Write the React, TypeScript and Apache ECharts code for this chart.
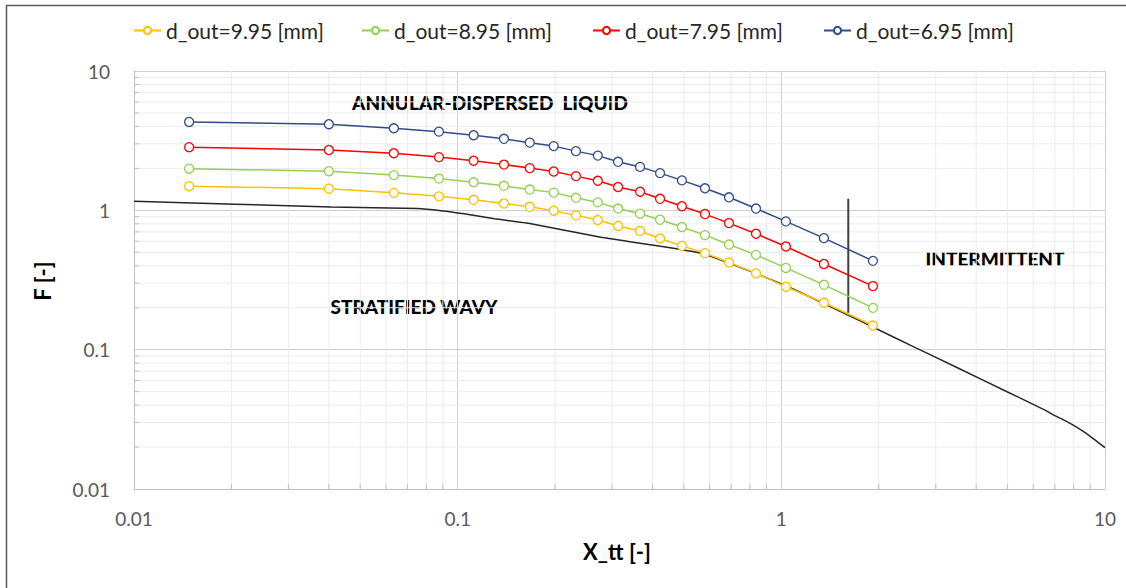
import React, { useEffect, useRef } from 'react';
import * as echarts from 'echarts';

const xtt = [0.0148, 0.040, 0.0635, 0.0875, 0.112, 0.139, 0.167, 0.198, 0.232, 0.271, 0.313, 0.366, 0.422, 0.493, 0.581, 0.689, 0.835, 1.033, 1.354, 1.919];
const f995 = [1.49, 1.43, 1.335, 1.26, 1.19, 1.12, 1.06, 0.994, 0.92, 0.852, 0.772, 0.71, 0.628, 0.556, 0.493, 0.422, 0.353, 0.283, 0.217, 0.149];
const f895 = [1.99, 1.91, 1.79, 1.69, 1.59, 1.5, 1.41, 1.34, 1.23, 1.14, 1.03, 0.946, 0.856, 0.759, 0.664, 0.568, 0.479, 0.386, 0.292, 0.1995];
const f795 = [2.84, 2.71, 2.57, 2.41, 2.27, 2.13, 2.01, 1.9, 1.76, 1.63, 1.47, 1.36, 1.21, 1.07, 0.94, 0.81, 0.679, 0.55, 0.412, 0.286];
const f695 = [4.31, 4.15, 3.88, 3.67, 3.46, 3.26, 3.06, 2.89, 2.66, 2.47, 2.23, 2.05, 1.85, 1.64, 1.44, 1.24, 1.03, 0.833, 0.632, 0.434];

const boundaryX = [0.01, 0.0406, 0.0753, 0.0888, 0.1046, 0.13, 0.1685, 0.277, 0.564, 1.02, 1.9, 2.5, 3.5, 5.0, 6.5, 7.0, 7.5, 8.0, 8.5, 9.0, 9.5, 10];
const boundaryF = [1.164, 1.057, 1.03, 0.995, 0.945, 0.87, 0.8, 0.64, 0.493, 0.291, 0.147, 0.1078, 0.0742, 0.0497, 0.037, 0.0336, 0.0311, 0.0286, 0.0262, 0.0239, 0.0217, 0.0198];

const dividerX = [1.61, 1.61];
const dividerF = [1.21, 0.184];

const seriesNames = ['d_out=9.95 [mm]', 'd_out=8.95 [mm]', 'd_out=7.95 [mm]', 'd_out=6.95 [mm]'];
const seriesValues = [f995, f895, f795, f695];
const seriesColors = ['#FFC000', '#92D050', '#FF0000', '#2F4B8A'];

const axisTickLabels = ['0.01', '0.1', '1', '10'];
const minorValues = [0.02, 0.03, 0.04, 0.05, 0.06, 0.07, 0.08, 0.09, 0.2, 0.3, 0.4, 0.5, 0.6, 0.7, 0.8, 0.9, 2, 3, 4, 5, 6, 7, 8, 9];

const FONT = 'Lato, "Open Sans", sans-serif';

export default function App() {
  const ref = useRef<HTMLDivElement>(null);
  useEffect(() => {
    const chart = echarts.init(ref.current!, null, { renderer: 'svg' });
    const fmt = (v: number) => {
      const s = axisTickLabels.find((t) => Math.abs(parseFloat(t) - v) < 1e-9 * Math.max(1, v));
      return s ?? '';
    };
    const lineSeries = seriesNames.map((name, i) => ({
      name,
      type: 'line',
      data: xtt.map((x, j) => [x, seriesValues[i][j]]),
      symbol: 'circle',
      symbolSize: 9,
      showSymbol: true,
      itemStyle: { color: '#ffffff', borderColor: seriesColors[i], borderWidth: 1.3 },
      lineStyle: { color: seriesColors[i], width: 1.5 },
      z: 3 + i,
    }));
    const option: any = {
      animation: false,
      backgroundColor: '#ffffff',
      grid: { left: 134, right: 21, top: 71, bottom: 99, containLabel: false },
      xAxis: {
        type: 'log',
        logBase: 10,
        min: 0.01,
        max: 10,
        axisLine: { show: true, lineStyle: { color: '#bfbfbf', width: 1 } },
        axisTick: { show: false },
        axisLabel: { formatter: fmt, fontSize: 19, color: '#595959', fontFamily: FONT, margin: 20 },
        splitLine: { show: true, lineStyle: { color: '#d0d0d0', width: 1 } },
      },
      yAxis: {
        type: 'log',
        logBase: 10,
        min: 0.01,
        max: 10,
        axisLine: { show: true, lineStyle: { color: '#bfbfbf', width: 1 } },
        axisTick: { show: false },
        axisLabel: { formatter: fmt, fontSize: 19, color: '#595959', fontFamily: FONT, margin: 24 },
        splitLine: { show: true, lineStyle: { color: '#d0d0d0', width: 1 } },
      },
      legend: seriesNames.map((n, i) => ({
        data: [n],
        left: [133, 361, 592, 823][i],
        top: 20,
        padding: 0,
        itemWidth: 27,
        itemHeight: 9,
        textStyle: { fontSize: 21, color: '#262626', fontFamily: FONT },
      })),
      series: [
        {
          type: 'custom',
          silent: true,
          z: 0,
          encode: { x: 0, y: 1 },
          data: minorValues.map((v) => [v, 1]),
          renderItem: (params: any, api: any) => {
            const v = api.value(0);
            const a = api.coord([v, 0.01]);
            const b = api.coord([v, 10]);
            return {
              type: 'group',
              children: [
                { type: 'line', shape: { x1: a[0], y1: a[1], x2: b[0], y2: b[1] }, style: { stroke: '#ececec', lineWidth: 1 } },
                { type: 'line', shape: { x1: a[0], y1: a[1], x2: a[0], y2: a[1] - 5 }, style: { stroke: '#bfbfbf', lineWidth: 1 } },
              ],
            };
          },
        },
        {
          type: 'custom',
          silent: true,
          z: 0,
          encode: { x: 0, y: 1 },
          data: minorValues.map((v) => [1, v]),
          renderItem: (params: any, api: any) => {
            const v = api.value(1);
            const a = api.coord([0.01, v]);
            const b = api.coord([10, v]);
            return {
              type: 'group',
              children: [
                { type: 'line', shape: { x1: a[0], y1: a[1], x2: b[0], y2: b[1] }, style: { stroke: '#ececec', lineWidth: 1 } },
                { type: 'line', shape: { x1: a[0], y1: a[1], x2: a[0] + 5, y2: a[1] }, style: { stroke: '#bfbfbf', lineWidth: 1 } },
              ],
            };
          },
        },
        {
          name: 'boundary',
          type: 'line',
          data: boundaryX.map((x, j) => [x, boundaryF[j]]),
          symbol: 'none',
          smooth: 0.15,
          lineStyle: { color: '#262626', width: 1.5 },
          z: 2,
        },
        {
          name: 'divider',
          type: 'line',
          data: dividerX.map((x, j) => [x, dividerF[j]]),
          symbol: 'none',
          lineStyle: { color: '#404040', width: 2 },
          z: 2,
        },
        ...lineSeries,
      ],
      graphic: [
        { type: 'rect', shape: { x: 6.5, y: 5.5, width: 1300, height: 800 }, style: { fill: 'none', stroke: '#595959', lineWidth: 1.5 }, silent: true },
        { type: 'text', x: 42, y: 281, rotation: Math.PI / 2, style: { text: 'F [-]', font: `bold 22px ${FONT}`, fill: '#000', textAlign: 'center', textVerticalAlign: 'middle' } },
        { type: 'text', x: 617, y: 551, style: { text: 'X_tt [-]', font: `bold 22px ${FONT}`, fill: '#000', textAlign: 'center', textVerticalAlign: 'middle' } },
        { type: 'text', x: 490, y: 102, style: { text: 'ANNULAR-DISPERSED  LIQUID', font: `900 19px ${FONT}`, fill: '#000', textAlign: 'center', textVerticalAlign: 'middle' } },
        { type: 'text', x: 414, y: 306, style: { text: 'STRATIFIED WAVY', font: `900 19px ${FONT}`, fill: '#000', textAlign: 'center', textVerticalAlign: 'middle' } },
        { type: 'text', x: 995, y: 258, style: { text: 'INTERMITTENT', font: `900 19px ${FONT}`, fill: '#000', textAlign: 'center', textVerticalAlign: 'middle' } },
      ],
    };
    chart.setOption(option);
    return () => chart.dispose();
  }, []);
  return <div ref={ref} style={{ position: 'fixed', left: 0, top: 0, width: 1126, height: 588, background: '#fff' }} />;
}
